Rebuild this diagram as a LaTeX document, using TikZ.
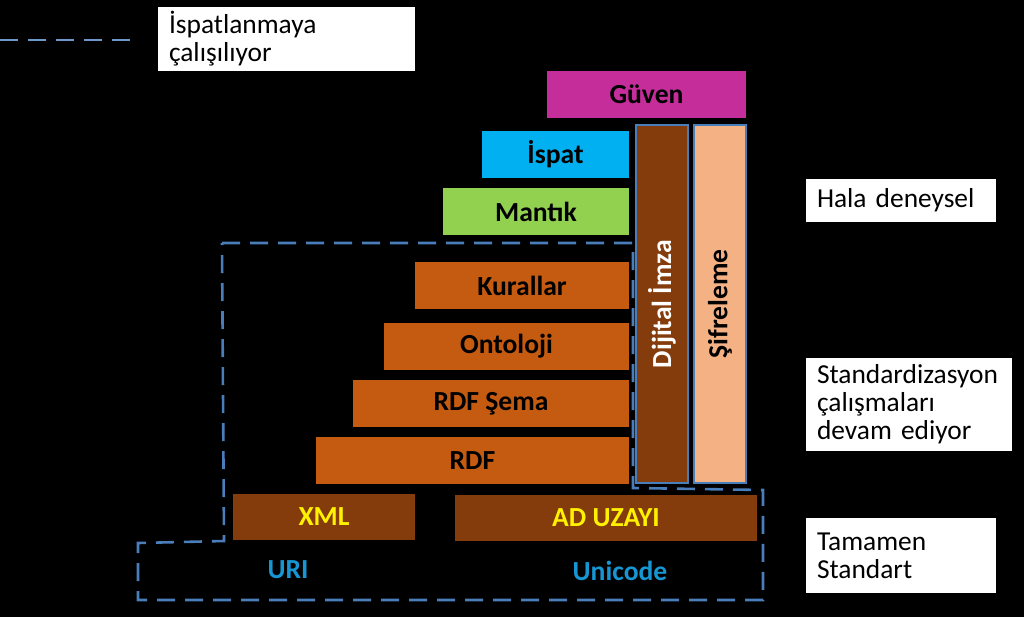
\documentclass[tikz,border=0pt]{standalone}
\usepackage{fontspec}
\setmainfont{Carlito}
\definecolor{trustpink}{RGB}{197,45,155}
\definecolor{proofblue}{RGB}{0,176,240}
\definecolor{logicgreen}{RGB}{146,208,80}
\definecolor{ruleorange}{RGB}{197,90,17}
\definecolor{xmlbrown}{RGB}{132,60,12}
\definecolor{cryptpeach}{RGB}{244,177,131}
\definecolor{dashblue}{RGB}{74,126,187}
\definecolor{uriblue}{RGB}{22,150,210}
\begin{document}
\begin{tikzpicture}[x=0.5pt,y=-0.5pt,
	layer/.style={rectangle,inner sep=0pt,minimum height=23.5pt,text=black,
		font=\bfseries\fontsize{13.8}{15}\selectfont},
	upright/.style={layer,rotate=90,minimum width=179pt,minimum height=26pt,
		draw=dashblue,line width=0.6pt},
	legend/.style={rectangle,fill=white,inner xsep=5.5pt,inner ysep=0pt,align=left,
		text=black,font=\fontsize{13.7}{14}\selectfont},
	frame/.style={draw=dashblue,line width=1.3pt,dash pattern=on 9pt off 5pt}]
\fill[black] (0,0) rectangle (1024,617);
\useasboundingbox (0,0) rectangle (1024,617);
\draw[frame] (222,243) -- (633,243) -- (633,488) -- (763,490) -- (763,600)
	-- (138,600) -- (138,543) -- (224,541) -- cycle;
\node[layer,fill=trustpink,minimum width=99.5pt] (guven) at (646.5,94.5) {Güven};
\node[layer,fill=proofblue,minimum width=73.5pt] (ispat) at (555.5,154.5) {İspat};
\node[layer,fill=logicgreen,minimum width=93pt] (mantik) at (536,211.5) {Mantık};
\node[layer,fill=ruleorange,minimum width=107pt] (kurallar) at (522,285.5) {Kurallar};
\node[layer,fill=ruleorange,minimum width=122.5pt] (ontoloji) at (506.5,346.5) {Ontoloji};
\node[layer,fill=ruleorange,minimum width=138pt] (rdfsema) at (491,403.5) {RDF Şema};
\node[layer,fill=ruleorange,minimum width=156.5pt] (rdf) at (472.5,460.5) {RDF};
\node[upright,fill=xmlbrown,text=white] (imza) at (662,304) {Dijital İmza};
\node[upright,fill=cryptpeach] (sifreleme) at (720,304) {Şifreleme};
\node[layer,fill=xmlbrown,text=yellow,minimum width=91pt,minimum height=23pt] (xml) at (324,517) {XML};
\node[layer,fill=xmlbrown,text=yellow,minimum width=151pt,minimum height=23pt] (aduzayi) at (606,517.5) {AD UZAYI};
\node[layer,text=uriblue] (uri) at (288,570) {URI};
\node[layer,text=uriblue] (unicode) at (620,571) {Unicode};
\coordinate (dashstart) at (0,40);
\coordinate (dashend) at (137,40);
\draw[frame,draw=dashblue!80!white] (dashstart) -- (dashend);
\node[legend,text width=117.5pt,minimum height=32pt] (ispatlan) at (286.5,39) {İspatlanmaya\\çalışılıyor};
\node[legend,text width=84pt,minimum height=21.5pt] (deneysel) at (901,200.5) {Hala deneysel};
\node[legend,text width=92pt,minimum height=46.5pt] (standart) at (909,404.5) {Standardizasyon\\çalışmaları\\devam ediyor};
\node[legend,text width=84pt,minimum height=37.5pt] (tamamen) at (901,555.5) {Tamamen\\Standart};
\end{tikzpicture}
\end{document}
